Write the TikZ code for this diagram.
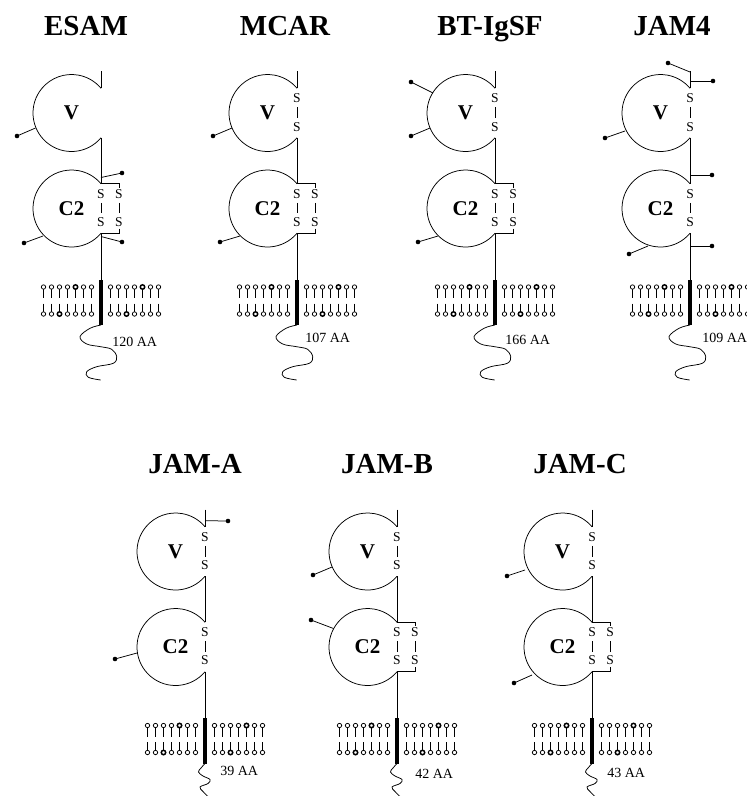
\documentclass[tikz,border=0pt]{standalone}
\usepackage{fontspec}
\setmainfont{Liberation Serif}

% Ig domain drawn as an open circle that closes on the backbone (x = 0)
\newcommand{\igdomain}[3]{%
  \draw (-29.5,#2) ++(40:38.5) arc[start angle=40,end angle=320,radius=38.5];
  \node[domlabel] (#1) at (-29.5,#2) {#3};
}
% disulfide bridge: two S with a short bond between them
\newcommand{\sbridge}[4]{%
  \node[sulfur] (#1-a) at (#2,#3) {S};
  \node[sulfur] (#1-b) at (#2,#4) {S};
  \draw[shorten <=4pt,shorten >=4pt] (#1-a) -- (#1-b);
}
% second bridge of a C2 domain, tied to the backbone
\newcommand{\cbracket}{%
  \draw (0,183.75) -| (18,187.5);
  \draw (18,228.5) |- (0,233.25);
}
% backbone between the domains and down to the membrane
\newcommand{\backbone}{%
  \draw (0,71) -- (0,88.25);
  \draw (0,137.75) -- (0,183.75);
  \draw (0,233.25) -- (0,279.5);
}
% glycosylation site: stalk with a filled dot
\newcommand{\sugar}[2]{%
  \draw (#1) -- (#2);
  \fill (#2) circle (2.3);
}
% lipid bilayer with the transmembrane segment
\newcommand{\bilayer}{%
  \foreach \gx in {-57.5,9.5}{
    \foreach \i in {0,...,6}{
      \pgfmathsetmacro{\lx}{\gx+8*\i}
      \pgfmathsetmacro{\uw}{\i==4 ? 1.5 : 0.75}
      \pgfmathsetmacro{\dw}{\i==2 ? 1.5 : 0.75}
      \draw[line width=\uw pt] (\lx,289) -- (\lx,298);
      \draw[line width=\uw pt,fill=white] (\lx,287) circle (2.2);
      \draw[line width=\dw pt] (\lx,303.5) -- (\lx,312);
      \draw[line width=\dw pt,fill=white] (\lx,314) circle (2.2);
    }
  }
  \fill (-2.3,279.5) rectangle (2.3,325);
}
\newcommand{\longtail}{%
  \draw plot[smooth,tension=0.6] coordinates {(0,325) (-11,328.3) (-21,336.7)
    (-14.3,344) (-0.3,346.7) (10.7,349.3) (15.7,356.7) (12.3,363.3)
    (-4.3,366.7) (-14.3,371.7) (-12.7,377.3) (-0.3,380)};
}
\newcommand{\shorttail}{%
  \draw plot[smooth,tension=0.6] coordinates {(0,325) (-4,329.5) (-6.5,333.5)
    (-2,337.5) (5,341) (3,345) (-5,348.5) (-2,353) (3,358)};
}

\begin{document}
\begin{tikzpicture}[x=1pt,y=-1pt,line width=0.75pt,
  title/.style={font=\fontsize{29}{29}\selectfont\bfseries,inner sep=0,anchor=base},
  domlabel/.style={font=\fontsize{21}{21}\selectfont\bfseries,inner sep=0},
  sulfur/.style={font=\fontsize{13.5}{13.5}\selectfont,inner sep=0},
  aalabel/.style={font=\fontsize{14}{14}\selectfont,inner sep=0,anchor=west}]
\useasboundingbox (0,0) rectangle (747,796);
\clip (0,0) rectangle (747,796);

% ---------- titles ----------
\node[title] (t-esam) at (86,35) {ESAM};
\node[title] (t-mcar) at (285,35) {MCAR};
\node[title] (t-bt) at (490,35) {BT-IgSF};
\node[title] (t-jam4) at (672,35) {JAM4};
\node[title] (t-jama) at (195,473.5) {JAM-A};
\node[title] (t-jamb) at (387,473.5) {JAM-B};
\node[title] (t-jamc) at (580,473.5) {JAM-C};

% ---------- ESAM ----------
\begin{scope}[shift={(101,0)}]
  \igdomain{esam-v}{113}{V}
  \igdomain{esam-c2}{208.5}{C2}
  \backbone
  \sbridge{esam-c2a}{0}{194}{222}
  \sbridge{esam-c2b}{18}{194}{222}
  \cbracket
  \sugar{-65.5,128}{-84,136}
  \sugar{0,177.5}{21,173}
  \sugar{0,236.5}{21,242}
  \sugar{-58,236}{-77,243}
  \bilayer
  \longtail
  \node[aalabel] (esam-aa) at (11,342) {120 AA};
\end{scope}

% ---------- MCAR ----------
\begin{scope}[shift={(297,0)}]
  \igdomain{mcar-v}{113}{V}
  \igdomain{mcar-c2}{208.5}{C2}
  \backbone
  \sbridge{mcar-vs}{0}{98.5}{127}
  \sbridge{mcar-c2a}{0}{194}{222}
  \sbridge{mcar-c2b}{18}{194}{222}
  \cbracket
  \sugar{-65,128}{-84,136}
  \sugar{-57,236}{-77,242}
  \bilayer
  \longtail
  \node[aalabel] (mcar-aa) at (8,338) {107 AA};
\end{scope}

% ---------- BT-IgSF ----------
\begin{scope}[shift={(495,0)}]
  \igdomain{bt-v}{113}{V}
  \igdomain{bt-c2}{208.5}{C2}
  \backbone
  \sbridge{bt-vs}{0}{98.5}{127}
  \sbridge{bt-c2a}{0}{194}{222}
  \sbridge{bt-c2b}{18}{194}{222}
  \cbracket
  \sugar{-62,93}{-84,82}
  \sugar{-65,128}{-84,136}
  \sugar{-57,236}{-77,242}
  \bilayer
  \longtail
  \node[aalabel] (bt-aa) at (10,340) {166 AA};
\end{scope}

% ---------- JAM4 ----------
\begin{scope}[shift={(690,0)}]
  \igdomain{jam4-v}{113}{V}
  \igdomain{jam4-c2}{208.5}{C2}
  \backbone
  \sbridge{jam4-vs}{0}{98.5}{127}
  \sbridge{jam4-c2s}{0}{194}{222}
  \sugar{0,72}{-22,63}
  \sugar{0,81}{23,81}
  \sugar{-65,131}{-85,138}
  \sugar{0,175}{22,175}
  \sugar{0,246}{22,246}
  \sugar{-42,246}{-61,254}
  \bilayer
  \longtail
  \node[aalabel] (jam4-aa) at (12,338) {109 AA};
\end{scope}

% ---------- JAM-A ----------
\begin{scope}[shift={(205,438.5)}]
  \igdomain{jama-v}{113}{V}
  \igdomain{jama-c2}{208.5}{C2}
  \backbone
  \sbridge{jama-vs}{0}{98.5}{127}
  \sbridge{jama-c2s}{0}{194}{222}
  \sugar{0,82.2}{23,82.5}
  \sugar{-68,214.5}{-90,220.5}
  \bilayer
  \shorttail
  \node[aalabel] (jama-aa) at (15,332.2) {39 AA};
\end{scope}

% ---------- JAM-B ----------
\begin{scope}[shift={(397,438.5)}]
  \igdomain{jamb-v}{113}{V}
  \igdomain{jamb-c2}{208.5}{C2}
  \backbone
  \sbridge{jamb-vs}{0}{98.5}{127}
  \sbridge{jamb-c2a}{0}{194}{222}
  \sbridge{jamb-c2b}{18}{194}{222}
  \cbracket
  \sugar{-65,128.5}{-84,136.5}
  \sugar{-63.5,190}{-86,181.5}
  \bilayer
  \shorttail
  \node[aalabel] (jamb-aa) at (18,335.5) {42 AA};
\end{scope}

% ---------- JAM-C ----------
\begin{scope}[shift={(592,438.5)}]
  \igdomain{jamc-v}{113}{V}
  \igdomain{jamc-c2}{208.5}{C2}
  \backbone
  \sbridge{jamc-vs}{0}{98.5}{127}
  \sbridge{jamc-c2a}{0}{194}{222}
  \sbridge{jamc-c2b}{18}{194}{222}
  \cbracket
  \sugar{-67,131.5}{-85,137.5}
  \sugar{-60,236.5}{-78,244.5}
  \bilayer
  \shorttail
  \node[aalabel] (jamc-aa) at (15,334.5) {43 AA};
\end{scope}
\end{tikzpicture}
\end{document}
